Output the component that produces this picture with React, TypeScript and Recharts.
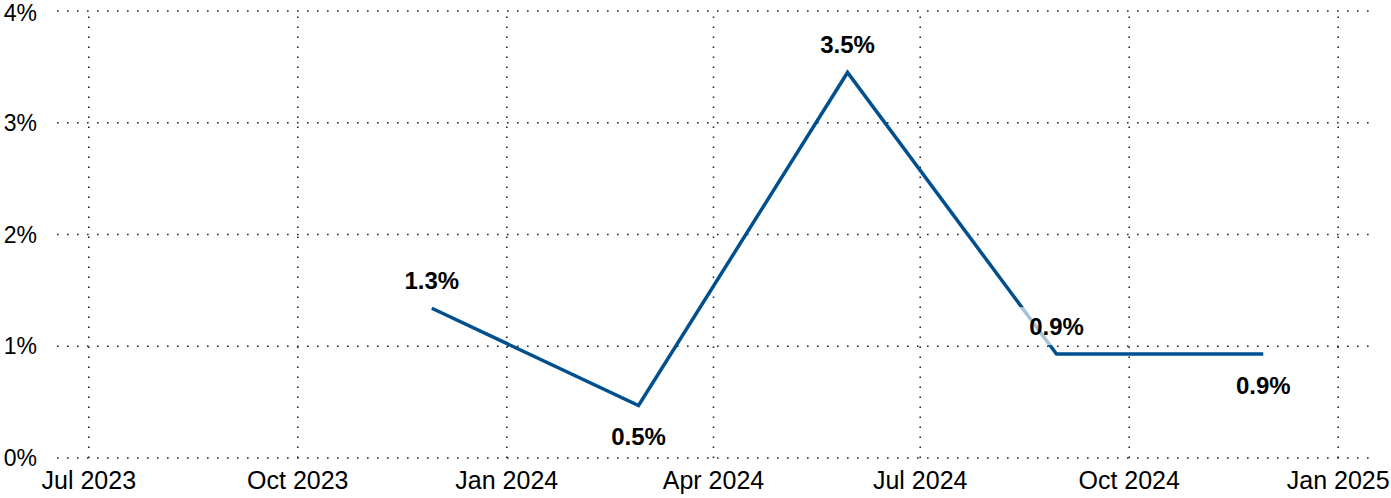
import React from 'react';
import { LineChart, Line, XAxis, YAxis, CartesianGrid, LabelList, ReferenceLine } from 'recharts';

// quarterly readings
const periods = ['2023-11-29', '2024-02-28', '2024-05-30', '2024-08-30', '2024-11-29'];
const rates = [1.34, 0.47, 3.45, 0.93, 0.93];
// label sits above (-1) or below (+1) the point
const labelSide = [-1, 1, -1, -1, 1];

const xTicks = ['2023-07-01', '2023-10-01', '2024-01-01', '2024-04-01', '2024-07-01', '2024-10-01', '2025-01-01'];
const yTicks = [0, 1, 2, 3, 4];
const monthNames = ['Jan', 'Feb', 'Mar', 'Apr', 'May', 'Jun', 'Jul', 'Aug', 'Sep', 'Oct', 'Nov', 'Dec'];

const toTime = (s: string) => {
  const [y, m, d] = s.split('-').map(Number);
  return Date.UTC(y, m - 1, d);
};

const data = periods.map((p, i) => ({ date: toTime(p), rate: rates[i] }));
const domain = [toTime('2023-06-17'), toTime('2025-01-15')];
const xTickTimes = xTicks.map(toTime);

const FONT = '"Liberation Sans", Arial, sans-serif';
const LINE = '#00508f';
const GRID = { stroke: '#222', strokeWidth: 1.6, strokeDasharray: '1.6 8.4' };

const fmtDate = (t: number) => {
  const d = new Date(t);
  return `${monthNames[d.getUTCMonth()]} ${d.getUTCFullYear()}`;
};

const ValueLabel = (props: any) => {
  const { x, y, value, index } = props;
  const side = labelSide[index] ?? -1;
  const cy = side < 0 ? y - 28 : y + 31;
  const text = `${Number(value).toFixed(1)}%`;
  const w = 76;
  const h = 38;
  return (
    <g>
      <rect x={x - w / 2} y={cy - h / 2} width={w} height={h} fill="#fff" fillOpacity={0.65} />
      <text
        x={x}
        y={cy}
        dy="0.36em"
        textAnchor="middle"
        fontFamily={FONT}
        fontSize={24}
        fontWeight="bold"
        fill="#000"
      >
        {text}
      </text>
    </g>
  );
};

export default function App() {
  return (
    <div style={{ position: 'absolute', left: 0, top: 0, background: '#fff' }}>
      <LineChart width={1391} height={498} data={data} margin={{ top: 11, right: 21, bottom: 10, left: 0 }}>
        <CartesianGrid vertical={false} {...GRID} />
        <XAxis
          dataKey="date"
          type="number"
          scale="time"
          domain={domain}
          ticks={xTickTimes}
          tickFormatter={fmtDate}
          axisLine={false}
          tickLine={false}
          height={30}
          tickMargin={7}
          tick={{ fontSize: 25, fill: '#000', fontFamily: FONT }}
        />
        <YAxis
          type="number"
          domain={[0, 4]}
          ticks={yTicks}
          tickFormatter={(v: number) => `${v}%`}
          axisLine={false}
          tickLine={false}
          width={57}
          tickMargin={14}
          tick={{ fontSize: 23, fill: '#000', fontFamily: FONT }}
        />
        {xTickTimes.map((t) => (
          <ReferenceLine key={t} x={t} {...GRID} />
        ))}
        <Line
          type="linear"
          dataKey="rate"
          stroke={LINE}
          strokeWidth={3.5}
          dot={false}
          activeDot={false}
          isAnimationActive={false}
        >
          <LabelList dataKey="rate" content={<ValueLabel />} />
        </Line>
      </LineChart>
    </div>
  );
}
